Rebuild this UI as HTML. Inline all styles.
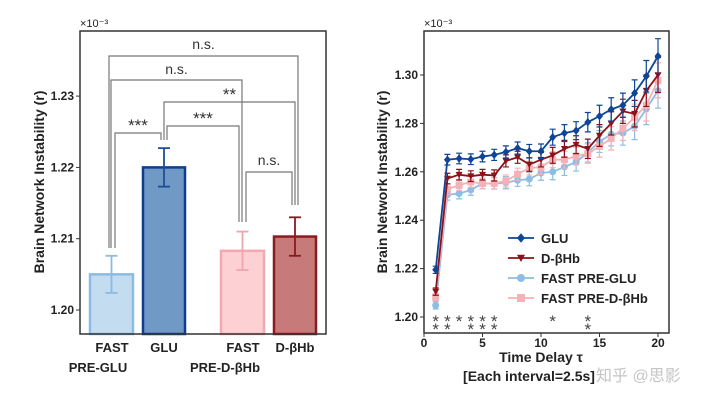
<!DOCTYPE html>
<html><head><meta charset="utf-8"><style>
body{margin:0;background:#fff;width:720px;height:401px;overflow:hidden}
svg{font-family:"Liberation Sans","Noto Sans CJK SC",sans-serif}
</style></head><body>
<svg id="c" width="720" height="401"></svg>
<script>
const barCategories=["FAST PRE-GLU","GLU","FAST PRE-D-βHb","D-βHb"];
const barValues=[1.2050,1.2200,1.2083,1.2103];
const barErrors=[0.0026,0.0027,0.0027,0.0027];
const barTicks=[1.20,1.21,1.22,1.23];
const lineX=[1,2,3,4,5,6,7,8,9,10,11,12,13,14,15,16,17,18,19,20];
const gluVals=[1.2195,1.2650,1.2655,1.2652,1.2663,1.2670,1.2682,1.2698,1.2685,1.2685,1.2743,1.2760,1.2770,1.2805,1.2830,1.2858,1.2875,1.2925,1.2995,1.3078];
const dbhbVals=[1.2105,1.2572,1.2588,1.2582,1.2588,1.2585,1.2645,1.2660,1.2630,1.2650,1.2668,1.2695,1.2712,1.2695,1.2750,1.2800,1.2850,1.2840,1.2935,1.3000];
const preGluVals=[1.2048,1.2505,1.2510,1.2525,1.2552,1.2552,1.2555,1.2565,1.2570,1.2595,1.2600,1.2620,1.2640,1.2680,1.2725,1.2755,1.2760,1.2788,1.2860,1.2935];
const preDbhbVals=[1.2082,1.2528,1.2545,1.2558,1.2552,1.2552,1.2562,1.2590,1.2615,1.2620,1.2650,1.2650,1.2665,1.2675,1.2705,1.2738,1.2780,1.2825,1.2875,1.2978];
const lineErrs=[0.0015,0.0022,0.0022,0.0022,0.0022,0.0023,0.0025,0.0025,0.0028,0.0030,0.0033,0.0035,0.0037,0.0040,0.0045,0.0048,0.0050,0.0055,0.0065,0.0072];
const lineYTicks=[1.20,1.22,1.24,1.26,1.28,1.30];
const lineXTicks=[0,5,10,15,20];
const starCounts=[2,2,1,2,2,2,0,0,0,0,1,0,0,2,0,0,0,0,0,0];

const svg=document.getElementById('c');const NS='http://www.w3.org/2000/svg';
function mk(t,a,p,txt){const e=document.createElementNS(NS,t);for(const k in a)e.setAttribute(k,a[k]);if(txt!==undefined)e.textContent=txt;(p||svg).appendChild(e);return e;}

// ---- left bar chart
const L={x0:80,x1:326,y0:31,y1:334};
const lyS=v=>310-(v-1.20)*7130;
const barX=[[90,133],[143,185],[221,264],[274,316]];
const barFill=["#c3dcf0","#7099c6","#fdd0d3","#c67a7a"];
const barStroke=["#8bbbe3","#0e3f8c","#f4a9b0","#8a1a1f"];
const errCol=["#8bbbe3","#1d4f98","#f0a5ad","#8a1a1f"];
const gL=mk('g',{});
barValues.forEach((v,i)=>{
 const [a,b]=barX[i];const y=lyS(v);
 const r=mk('rect',{x:a,y:y,width:b-a,height:L.y1-y,fill:barFill[i],stroke:barStroke[i],'stroke-width':2.5},gL);
 
 const cx=(a+b)/2,t=lyS(v+barErrors[i]),bt=lyS(v-barErrors[i]);
 const g=mk('g',{stroke:errCol[i],'stroke-width':1.8},gL);
 mk('line',{x1:cx,x2:cx,y1:t,y2:bt},g);mk('line',{x1:cx-6,x2:cx+6,y1:t,y2:t},g);mk('line',{x1:cx-6,x2:cx+6,y1:bt,y2:bt},g);
});
mk('rect',{x:L.x0,y:L.y0,width:L.x1-L.x0,height:L.y1-L.y0,fill:'none',stroke:'#333','stroke-width':1.5},gL);
barTicks.forEach(t=>{const y=lyS(t);mk('line',{x1:L.x0-4,x2:L.x0,y1:y,y2:y,stroke:'#333'},gL);
 const tx=mk('text',{x:L.x0-6,y:y+4,'text-anchor':'end','font-size':12,'font-weight':'bold',fill:'#222'},gL,t.toFixed(2));});
let e=mk('text',{x:80,y:27,'font-size':11,fill:'#222'},gL,'×10⁻³');
e=mk('text',{transform:'translate(44,182) rotate(-90)','text-anchor':'middle','font-size':14,'font-weight':'bold',fill:'#222'},gL,'Brain Network Instability (r)');
[[112,352,'FAST'],[98,372,'PRE-GLU'],[164,352,'GLU'],[243,352,'FAST'],[225,372,'PRE-D-βHb'],[295,352,'D-βHb']].forEach(([x,y,s])=>{const t=mk('text',{x:x,y:y,'text-anchor':'middle','font-size':13,'font-weight':'bold',fill:'#222'},gL,s);});
[[109,298,56,248,205,'n.s.',49],[111,242,80,248,222,'n.s.',74],[164,295,102,140,205,'**',100],[167,239,126,140,222,'***',124],[115,161,133,248,140,'***',131],[246,292,172,222,205,'n.s.',165]].forEach(([a,b,y,la,lb,s,ty])=>{
 const g=mk('g',{},gL);
 mk('path',{d:`M${a},${la}V${y}H${b}V${lb}`,fill:'none',stroke:'#777','stroke-width':1.2},g);
 mk('text',{x:(a+b)/2,y:ty,'text-anchor':'middle','font-size':s==='n.s.'?14:17,fill:'#333'},g,s);
});

// ---- right line chart
const R={x0:424,x1:669,y0:31,y1:333};
const rx=v=>424+v*11.7;const ry=v=>317-(v-1.20)*2420;
const gR=mk('g',{});
const series=[[preGluVals,'#8cbde3','circle','fast-pre-glu'],[preDbhbVals,'#f6b1b6','square','fast-pre-dbhb'],[dbhbVals,'#8a1218','tri','dbhb'],[gluVals,'#0e4596','diamond','glu']];
function marker(g,x,y,type,c,sz){
 if(type==='circle')mk('circle',{cx:x,cy:y,r:sz,fill:c},g);
 else if(type==='square')mk('rect',{x:x-sz,y:y-sz,width:2*sz,height:2*sz,fill:c},g);
 else if(type==='tri')mk('path',{d:`M${x-sz},${y-sz*0.8}H${x+sz}L${x},${y+sz}Z`,fill:c},g);
 else mk('path',{d:`M${x},${y-sz*1.2}L${x+sz},${y}L${x},${y+sz*1.2}L${x-sz},${y}Z`,fill:c},g);
}
series.forEach(([vals,c,type,name])=>{
 const g=mk('g',{},gR);
 mk('polyline',{points:vals.map((v,i)=>rx(lineX[i])+','+ry(v)).join(' '),fill:'none',stroke:c,'stroke-width':1.8},g);
 vals.forEach((v,i)=>{const x=rx(lineX[i]),t=ry(v+lineErrs[i]),b=ry(v-lineErrs[i]);
  mk('path',{d:`M${x},${t}V${b}M${x-3},${t}H${x+3}M${x-3},${b}H${x+3}`,stroke:c,'stroke-width':1.2,fill:'none'},g);
  marker(g,x,ry(v),type,c,3.5);});
});
mk('rect',{x:R.x0,y:R.y0,width:R.x1-R.x0,height:R.y1-R.y0,fill:'none',stroke:'#333','stroke-width':1.5},gR);
lineYTicks.forEach(t=>{const y=ry(t);mk('line',{x1:R.x0-4,x2:R.x0,y1:y,y2:y,stroke:'#333'},gR);
 const tx=mk('text',{x:R.x0-6,y:y+4,'text-anchor':'end','font-size':12,'font-weight':'bold',fill:'#222'},gR,t.toFixed(2));});
lineXTicks.forEach(t=>{const x=rx(t);mk('line',{x1:x,x2:x,y1:R.y1,y2:R.y1+4,stroke:'#333'},gR);
 const tx=mk('text',{x:x,y:R.y1+14,'text-anchor':'middle','font-size':12,'font-weight':'bold',fill:'#222'},gR,String(t));});
starCounts.forEach((n,i)=>{for(let k=0;k<n;k++){const t=mk('text',{x:rx(lineX[i]),y:327+k*8,'text-anchor':'middle','font-size':17,fill:'#444'},gR,'*');}});
e=mk('text',{x:424,y:27,'font-size':11,fill:'#222'},gR,'×10⁻³');
e=mk('text',{transform:'translate(387,182) rotate(-90)','text-anchor':'middle','font-size':14,'font-weight':'bold',fill:'#222'},gR,'Brain Network Instability (r)');
e=mk('text',{x:541,y:362,'text-anchor':'middle','font-size':14,'font-weight':'bold',fill:'#222'},gR,'Time Delay τ');
e=mk('text',{x:529,y:381,'text-anchor':'middle','font-size':14,'font-weight':'bold',fill:'#222'},gR,'[Each interval=2.5s]');
e=mk('text',{x:596,y:381,'font-size':16,fill:'#bbb','fill-opacity':0.85},gR,'知乎 @思影');
const legend=[['GLU','#0e4596','diamond'],['D-βHb','#8a1218','tri'],['FAST PRE-GLU','#8cbde3','circle'],['FAST PRE-D-βHb','#f6b1b6','square']];
legend.forEach(([s,c,type],i)=>{const y=238+i*20;const g=mk('g',{},gR);
 mk('line',{x1:508,x2:534,y1:y,y2:y,stroke:c,'stroke-width':1.8},g);marker(g,521,y,type,c,4);
 mk('text',{x:541,y:y+5,'font-size':13,'font-weight':'bold',fill:'#222'},g,s);});
</script>
</body></html>
